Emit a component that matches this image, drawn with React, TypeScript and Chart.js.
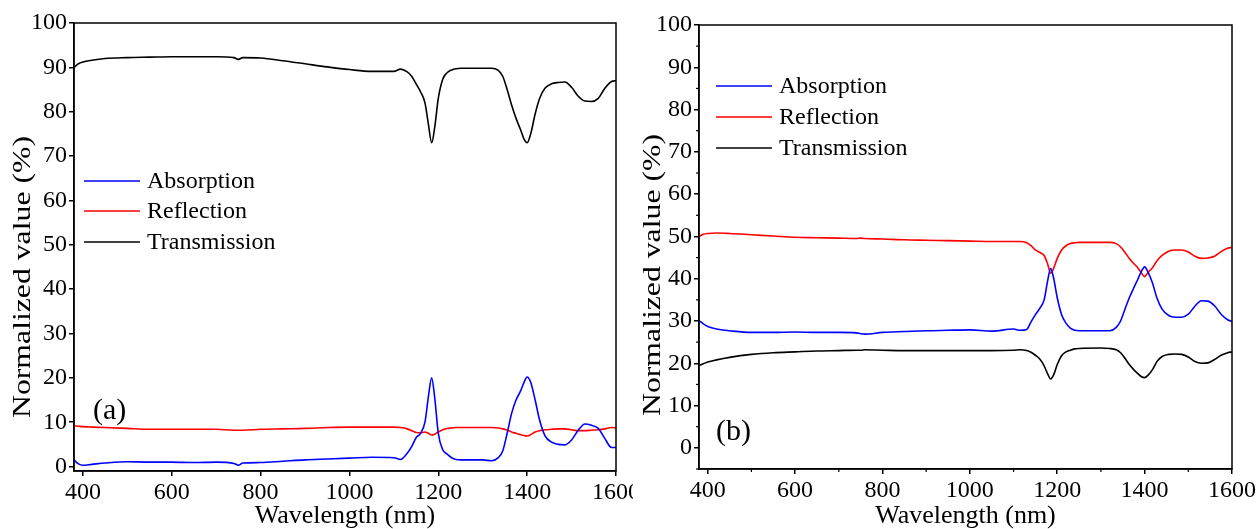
import { useEffect, useRef } from "react";
import { Chart, registerables } from "chart.js";

Chart.register(...registerables);

const wavelengths = [380, 390, 400, 420, 450, 500, 550, 600, 650, 700, 740, 750, 760, 800, 850, 900, 950, 1000, 1050, 1100, 1115, 1130, 1140, 1150, 1160, 1170, 1178, 1185, 1192, 1200, 1210, 1220, 1230, 1240, 1250, 1300, 1320, 1335, 1345, 1355, 1365, 1375, 1385, 1393, 1400, 1408, 1418, 1428, 1440, 1455, 1470, 1485, 1500, 1515, 1530, 1545, 1560, 1575, 1590, 1600];

const absorptionA = [1.5, 0.6, 0.3, 0.5, 0.8, 1.1, 1.0, 1.0, 0.9, 1.0, 0.7, 0.3, 0.8, 0.9, 1.2, 1.5, 1.7, 1.9, 2.1, 2.0, 1.6, 3.0, 4.5, 6.5, 7.5, 10.0, 16.0, 20.0, 15.5, 7.5, 3.8, 2.8, 2.0, 1.6, 1.5, 1.5, 1.3, 2.0, 3.5, 7.5, 12.0, 15.0, 17.0, 19.0, 20.2, 19.0, 15.0, 10.5, 7.0, 5.5, 5.0, 4.9, 6.0, 8.2, 9.6, 9.3, 8.6, 6.3, 4.3, 4.3];
const reflectionA = [9.2, 9.1, 9.0, 8.9, 8.8, 8.6, 8.4, 8.4, 8.4, 8.4, 8.2, 8.2, 8.2, 8.4, 8.5, 8.6, 8.8, 8.9, 8.9, 8.9, 8.8, 8.5, 8.1, 7.7, 7.6, 7.8, 7.5, 7.1, 7.3, 7.8, 8.3, 8.6, 8.7, 8.8, 8.8, 8.8, 8.8, 8.7, 8.5, 8.2, 7.8, 7.5, 7.2, 7.0, 6.9, 7.2, 7.8, 8.1, 8.3, 8.4, 8.5, 8.5, 8.3, 8.1, 8.1, 8.2, 8.3, 8.5, 8.8, 8.7];
const transmissionA = [90.0, 90.8, 91.2, 91.6, 92.0, 92.2, 92.3, 92.4, 92.4, 92.4, 92.2, 91.8, 92.2, 92.1, 91.5, 90.8, 90.1, 89.5, 89.1, 89.1, 89.6, 89.0, 88.0, 86.3, 84.5, 82.0, 77.0, 73.0, 76.5, 83.0, 87.3, 88.8, 89.4, 89.7, 89.8, 89.8, 89.8, 89.3, 88.0, 85.0, 81.5, 78.5, 76.0, 73.8, 73.0, 75.0, 79.5, 83.0, 85.3, 86.3, 86.6, 86.7, 85.5, 83.5, 82.4, 82.3, 83.0, 85.3, 86.8, 87.0];

const absorptionB = [30.1, 29.3, 28.7, 28.1, 27.7, 27.3, 27.3, 27.4, 27.3, 27.3, 27.2, 27.0, 26.9, 27.3, 27.5, 27.7, 27.8, 27.9, 27.6, 28.1, 27.8, 28.0, 29.8, 31.5, 33.0, 35.0, 39.5, 42.4, 40.0, 35.5, 31.5, 29.5, 28.3, 27.8, 27.7, 27.7, 27.7, 28.5, 30.0, 32.8, 35.5, 37.8, 40.0, 41.8, 42.8, 41.5, 39.0, 35.5, 32.8, 31.3, 30.9, 30.9, 31.6, 33.5, 34.8, 34.7, 33.6, 31.6, 30.3, 29.9];
const reflectionB = [50.0, 50.5, 50.7, 50.8, 50.7, 50.4, 50.1, 49.8, 49.7, 49.6, 49.5, 49.6, 49.5, 49.4, 49.2, 49.1, 49.0, 48.9, 48.8, 48.8, 48.8, 48.5, 47.8, 46.8, 46.2, 45.5, 43.5, 41.3, 42.5, 44.8, 46.8, 47.8, 48.3, 48.5, 48.6, 48.6, 48.6, 48.3, 47.5, 46.2, 44.8, 43.6, 42.5, 41.3, 40.5, 41.5, 42.6, 44.2, 45.5, 46.5, 46.8, 46.8, 46.3, 45.3, 44.8, 44.9, 45.3, 46.4, 47.2, 47.4];
const transmissionB = [19.5, 19.9, 20.3, 20.8, 21.4, 22.1, 22.5, 22.7, 22.9, 23.0, 23.1, 23.1, 23.2, 23.1, 23.0, 23.0, 23.0, 23.0, 23.0, 23.1, 23.2, 23.0, 22.6, 21.9, 21.0, 19.4, 17.5, 16.3, 17.3, 19.7, 21.8, 22.7, 23.1, 23.4, 23.5, 23.6, 23.5, 23.2, 22.5, 21.2, 19.7, 18.5, 17.5, 16.8, 16.6, 17.2, 18.5, 20.4, 21.6, 22.1, 22.2, 22.1, 21.5, 20.4, 20.0, 20.1, 20.9, 21.9, 22.5, 22.7];

const seriesLabels = ["Absorption", "Reflection", "Transmission"];
const seriesColors = ["#0000ff", "#ff0000", "#000000"];

const xTickValues = [400, 600, 800, 1000, 1200, 1400, 1600];
const yTickValues = [0, 10, 20, 30, 40, 50, 60, 70, 80, 90, 100];
const xMinorTicksB = [500, 700, 900, 1100, 1300, 1500];
const yMinorTicksB = [-5, 5, 15, 25, 35, 45, 55, 65, 75, 85, 95];

const FONT = "'Liberation Serif', 'Times New Roman', serif";

const decorPlugin = {
  id: "decor",
  afterDraw(chart: any, _args: any, opts: any) {
    const { ctx, chartArea: ca, scales } = chart;
    ctx.save();
    // frame
    ctx.strokeStyle = "#000";
    ctx.lineWidth = 1.5;
    ctx.strokeRect(ca.left, ca.top, ca.right - ca.left, ca.bottom - ca.top);
    // minor ticks
    ctx.lineWidth = 1.2;
    (opts.xMinor || []).forEach((v: number) => {
      const px = scales.x.getPixelForValue(v);
      ctx.beginPath();
      ctx.moveTo(px, ca.bottom);
      ctx.lineTo(px, ca.bottom + 3);
      ctx.stroke();
    });
    (opts.yMinor || []).forEach((v: number) => {
      const py = scales.y.getPixelForValue(v);
      ctx.beginPath();
      ctx.moveTo(ca.left, py);
      ctx.lineTo(ca.left - 3, py);
      ctx.stroke();
    });
    // legend
    ctx.font = `${opts.legendFont}px ${FONT}`;
    ctx.textBaseline = "middle";
    ctx.textAlign = "left";
    chart.data.datasets.forEach((ds: any, i: number) => {
      const y = opts.legendY[i];
      ctx.strokeStyle = ds.borderColor;
      ctx.lineWidth = 1.6;
      ctx.beginPath();
      ctx.moveTo(opts.legendX, y);
      ctx.lineTo(opts.legendX + opts.legendLen, y);
      ctx.stroke();
      ctx.fillStyle = "#000";
      ctx.fillText(ds.label, opts.legendX + opts.legendLen + 7, y + 1);
    });
    // panel label
    ctx.font = `${opts.panelFont}px ${FONT}`;
    ctx.fillText(opts.panelText, opts.panelX, opts.panelY);
    // y title
    ctx.font = `${opts.yTitleFont}px ${FONT}`;
    const w = ctx.measureText(opts.yTitle).width;
    ctx.translate(opts.yTitleX, opts.yTitleY);
    ctx.rotate(-Math.PI / 2);
    ctx.scale(opts.yTitleLen / w, 1);
    ctx.textAlign = "center";
    ctx.fillText(opts.yTitle, 0, 0);
    ctx.restore();
  },
};

function noPad(s: any) {
  s.paddingLeft = 0;
  s.paddingRight = 0;
  s.paddingTop = 0;
  s.paddingBottom = 0;
}

function buildConfig(values: number[][], yMin: number, p: any) {
  return {
    type: "line" as const,
    data: {
      datasets: values.map((vals, i) => ({
        label: seriesLabels[i],
        data: wavelengths.map((w, j) => ({ x: w, y: vals[j] })),
        borderColor: seriesColors[i],
        borderWidth: 1.6,
        pointRadius: 0,
        fill: false,
        cubicInterpolationMode: "monotone" as const,
      })),
    },
    options: {
      responsive: false,
      animation: false as const,
      events: [],
      layout: { padding: { left: 0, right: p.padRight, top: p.padTop, bottom: 0 } },
      scales: {
        x: {
          type: "linear" as const,
          min: 380,
          max: 1600,
          afterBuildTicks: (s: any) => {
            s.ticks = xTickValues.map((v) => ({ value: v }));
          },
          afterFit: (s: any) => {
            s.height = p.xAxisHeight;
            noPad(s);
          },
          grid: { drawOnChartArea: false, drawTicks: true, tickLength: 5, color: "#000", lineWidth: 1.5 },
          border: { display: true, color: "#000", width: 1.5 },
          ticks: {
            color: "#000",
            font: { family: FONT, size: 24 },
            padding: 2,
            maxRotation: 0,
            autoSkip: false,
            callback: (v: any) => String(v),
          },
          title: {
            display: true,
            text: "Wavelength (nm)",
            color: "#000",
            font: { family: FONT, size: 26, lineHeight: 1 },
            padding: { top: 0, bottom: 0 },
          },
        },
        y: {
          type: "linear" as const,
          min: yMin,
          max: 100,
          afterBuildTicks: (s: any) => {
            s.ticks = yTickValues.map((v) => ({ value: v }));
          },
          afterFit: (s: any) => {
            s.width = p.yAxisWidth;
            noPad(s);
          },
          grid: { drawOnChartArea: false, drawTicks: true, tickLength: 5, color: "#000", lineWidth: 1.5 },
          border: { display: true, color: "#000", width: 1.5 },
          ticks: {
            color: "#000",
            font: { family: FONT, size: 24 },
            padding: 2,
            autoSkip: false,
            callback: (v: any) => String(v),
          },
          title: { display: false },
        },
      },
      plugins: {
        legend: { display: false },
        tooltip: { enabled: false },
        decor: p.decor,
      },
    },
    plugins: [decorPlugin],
  };
}

function Panel(props: { left: number; width: number; cfg: any }) {
  const ref = useRef<HTMLCanvasElement>(null);
  useEffect(() => {
    if (!ref.current) return;
    const chart = new Chart(ref.current, props.cfg);
    return () => chart.destroy();
  }, []);
  return (
    <canvas
      ref={ref}
      width={props.width}
      height={529}
      style={{ position: "absolute", left: props.left, top: 0, width: props.width, height: 529, display: "block" }}
    />
  );
}

const cfgA = buildConfig([absorptionA, reflectionA, transmissionA], -1, {
  padRight: 17,
  padTop: 23,
  xAxisHeight: 58,
  yAxisWidth: 74,
  decor: {
    legendX: 84,
    legendLen: 56,
    legendY: [181, 211, 242],
    legendFont: 24,
    panelText: "(a)",
    panelX: 93,
    panelY: 411,
    panelFont: 30,
    yTitle: "Normalized value (%)",
    yTitleX: 23,
    yTitleY: 277,
    yTitleLen: 282,
    yTitleFont: 25,
    xMinor: [],
    yMinor: [],
  },
});

const cfgB = buildConfig([absorptionB, reflectionB, transmissionB], -5, {
  padRight: 27,
  padTop: 25,
  xAxisHeight: 60,
  yAxisWidth: 66,
  decor: {
    legendX: 83,
    legendLen: 56,
    legendY: [86, 117, 148],
    legendFont: 24,
    panelText: "(b)",
    panelX: 83,
    panelY: 432,
    panelFont: 30,
    yTitle: "Normalized value (%)",
    yTitleX: 20,
    yTitleY: 275,
    yTitleLen: 282,
    yTitleFont: 25,
    xMinor: xMinorTicksB,
    yMinor: yMinorTicksB,
  },
});

export default function App() {
  return (
    <div style={{ position: "absolute", left: 0, top: 0, width: 1259, height: 529, background: "#fff", overflow: "hidden" }}>
      <Panel left={0} width={633} cfg={cfgA} />
      <Panel left={633} width={626} cfg={cfgB} />
    </div>
  );
}
